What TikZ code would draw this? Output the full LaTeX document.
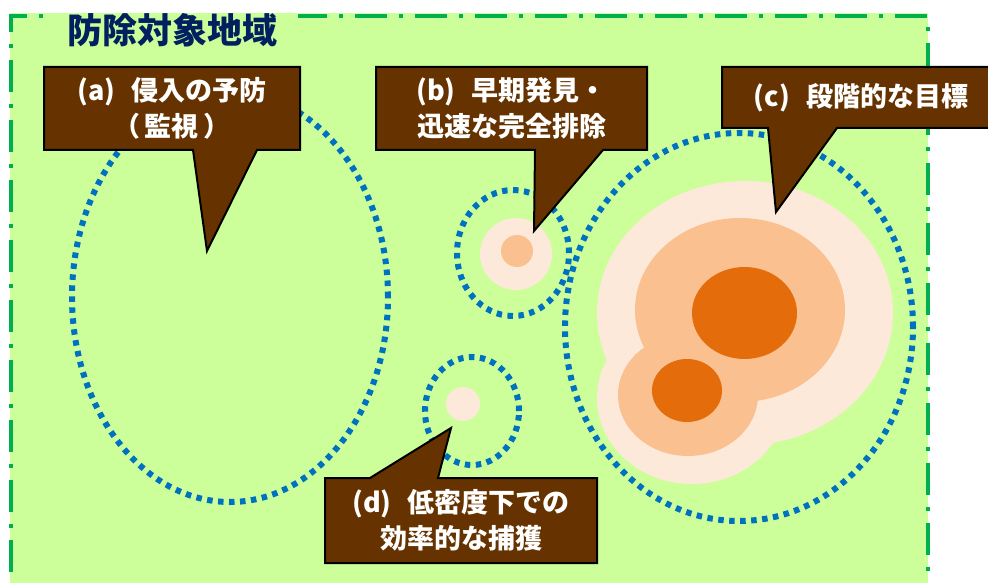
\documentclass[tikz,border=0pt]{standalone}
\usepackage{fontspec}
\setmainfont{Noto Sans CJK JP}
\usetikzlibrary{calc}
\definecolor{areagreen}{HTML}{CCFF99}
\definecolor{bordergreen}{HTML}{00B050}
\definecolor{dotblue}{HTML}{0070C0}
\definecolor{calloutbrown}{HTML}{663300}
\definecolor{titlenavy}{HTML}{002060}
\definecolor{lightpeach}{HTML}{FDE9D9}
\definecolor{midpeach}{HTML}{FAC090}
\definecolor{darkorange}{HTML}{E46C0A}
\begin{document}
\begin{tikzpicture}[x=1pt,y=-1pt,
  callout/.style={fill=calloutbrown, draw=black, line width=2pt, line join=miter},
  calloutframe/.style={inner sep=0pt, outer sep=0pt},
  callouttext/.style={text=white, font=\fontsize{27}{36}\selectfont\bfseries, align=center, inner sep=0pt},
  zone/.style={draw=dotblue, line width=6pt, dash pattern=on 5.5pt off 5.5pt},
  frameline/.style={draw=bordergreen, line width=4.5pt, dash pattern=on 32pt off 12pt on 4pt off 12pt, dash phase=32pt}]
\useasboundingbox (0,0) rectangle (988,583);
\clip (0,0) rectangle (988,583);
% area
\fill[areagreen] (10,13) rectangle (928,600);
\draw[frameline] (11,600) -- (11,16) -- (928,16) -- (928,600);
\node[fill=areagreen, minimum width=252pt, minimum height=34pt, inner sep=0pt,
      text=titlenavy, font=\fontsize{35}{40}\selectfont\bfseries] (title) at (172,30) {防除対象地域};
% infestation patches
\fill[lightpeach] (745,313) ellipse [x radius=148pt, y radius=132pt];
\fill[lightpeach] (692,398) ellipse [x radius=95pt, y radius=86pt];
\fill[midpeach] (740,310) ellipse [x radius=105pt, y radius=92pt];
\fill[midpeach] (688,395) ellipse [x radius=70pt, y radius=61pt];
\fill[darkorange] (744.5,313) ellipse [x radius=52.5pt, y radius=46pt];
\fill[darkorange] (687,390.5) ellipse [x radius=35pt, y radius=31.5pt];
\fill[lightpeach] (516,254) circle [radius=36pt];
\fill[midpeach] (517,251) circle [radius=16pt];
\fill[lightpeach] (463,404) circle [radius=17pt];
% dotted zones
\draw[zone] (230,297) ellipse [x radius=158pt, y radius=205pt];
\draw[zone] (513,253) ellipse [x radius=56pt, y radius=63pt];
\draw[zone] (472,411) ellipse [x radius=47pt, y radius=54pt];
\draw[zone] (739,327) ellipse [x radius=174pt, y radius=194pt];
% callout (a)
\path node[calloutframe, minimum width=256pt, minimum height=83pt] (ca) at (172,108.5) {};
\coordinate (tipa) at (207,251);
\draw[callout] (ca.north west) -- (ca.north east) -- (ca.south east)
  -- ($(ca.south west)+(213,0)$) -- (tipa) -- ($(ca.south west)+(149,0)$) -- (ca.south west) -- cycle;
\node[callouttext] (ta) at (ca) {(a)\hspace{0.6em}侵入の予防\\（\hspace{0.15em}監視\hspace{0.15em}）};
% callout (b)
\path node[calloutframe, minimum width=271pt, minimum height=83pt] (cb) at (511.5,108.5) {};
\coordinate (tipb) at (534,231);
\draw[callout] (cb.north west) -- (cb.north east) -- (cb.south east)
  -- ($(cb.south west)+(227,0)$) -- (tipb) -- ($(cb.south west)+(159,0)$) -- (cb.south west) -- cycle;
\node[callouttext] (tb) at (cb) {(b)\hspace{0.6em}早期発見・\\迅速な完全排除};
% callout (c)
\path node[calloutframe, minimum width=278pt, minimum height=61pt] (cc) at (861,97.5) {};
\coordinate (tipc) at (776,212);
\draw[callout] (cc.north west) -- (cc.north east) -- (cc.south east)
  -- ($(cc.south west)+(115,0)$) -- (tipc) -- ($(cc.south west)+(46,0)$) -- (cc.south west) -- cycle;
\node[callouttext] (tc) at (cc) {(c)\hspace{0.6em}段階的な目標};
% callout (d)
\path node[calloutframe, minimum width=272pt, minimum height=85pt] (cd) at (461,520.5) {};
\coordinate (tipd) at (451,428);
\draw[callout] (cd.north west) -- ($(cd.north west)+(45,0)$) -- (tipd) -- ($(cd.north west)+(113,0)$)
  -- (cd.north east) -- (cd.south east) -- (cd.south west) -- cycle;
\node[callouttext] (td) at (cd) {(d)\hspace{0.6em}低密度下での\\効率的な捕獲};
\end{tikzpicture}
\end{document}
